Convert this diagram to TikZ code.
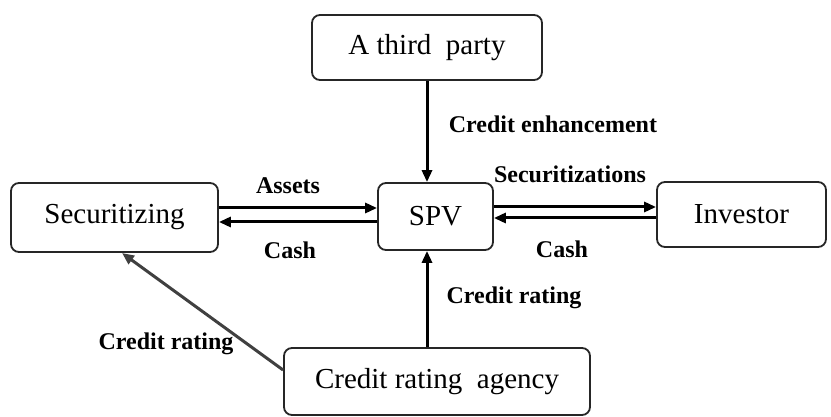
\documentclass[tikz,border=0pt]{standalone}
\usepackage{fontspec}
\setmainfont{Liberation Serif}
\usetikzlibrary{arrows.meta,calc}
\begin{document}
\begin{tikzpicture}[x=1pt,y=-1pt,
  box/.style={draw=black!85, line width=1.8pt, rounded corners=8pt, inner sep=0pt,
    font=\fontsize{29}{34}\selectfont},
  lbl/.style={font=\bfseries\fontsize{24}{28}\selectfont, inner sep=0pt},
  arr/.style={line width=3pt, -{Triangle[length=12pt,width=10pt]}},
  darr/.style={line width=3pt, draw=black!75, -{Triangle[length=12pt,width=10pt]}}]
\useasboundingbox (0,0) rectangle (831,417);
\node[box, minimum width=230pt, minimum height=65pt] (tp) at (427,47.5) {A third\ \ party};
\node[box, minimum width=207pt, minimum height=69pt] (sec) at (114.5,217.5) {Securitizing};
\node[box, minimum width=115pt, minimum height=67pt] (spv) at (435.5,216.5) {SPV};
\node[box, minimum width=169pt, minimum height=65pt] (inv) at (741.5,214.5) {Investor};
\node[box, minimum width=306pt, minimum height=67pt] (cra) at (437,381.5) {Credit rating\ \ agency};
% arrows
\draw[arr] (sec.east |- 0,208) -- (spv.west |- 0,208);
\draw[arr] (spv.west |- 0,222) -- (sec.east |- 0,222);
\draw[arr] (spv.east |- 0,207) -- (inv.west |- 0,207);
\draw[arr] (inv.west |- 0,218) -- (spv.east |- 0,218);
\draw[arr] (tp.south) -- (tp.south |- spv.north);
\draw[arr] (cra.north -| tp.south) -- (spv.south -| tp.south);
\coordinate (dend) at (122,253);
\draw[darr] (cra.west |- 0,370) -- (dend);
% labels
\node[lbl] (l1) at (553,124) {Credit enhancement};
\node[lbl] (l2) at (288,186) {Assets};
\node[lbl] (l3) at (290,250) {Cash};
\node[lbl] (l4) at (570,174) {Securitizations};
\node[lbl] (l5) at (562,249) {Cash};
\node[lbl] (l6) at (514,298) {Credit rating};
\node[lbl] (l7) at (166,344) {Credit rating};
\end{tikzpicture}
\end{document}
